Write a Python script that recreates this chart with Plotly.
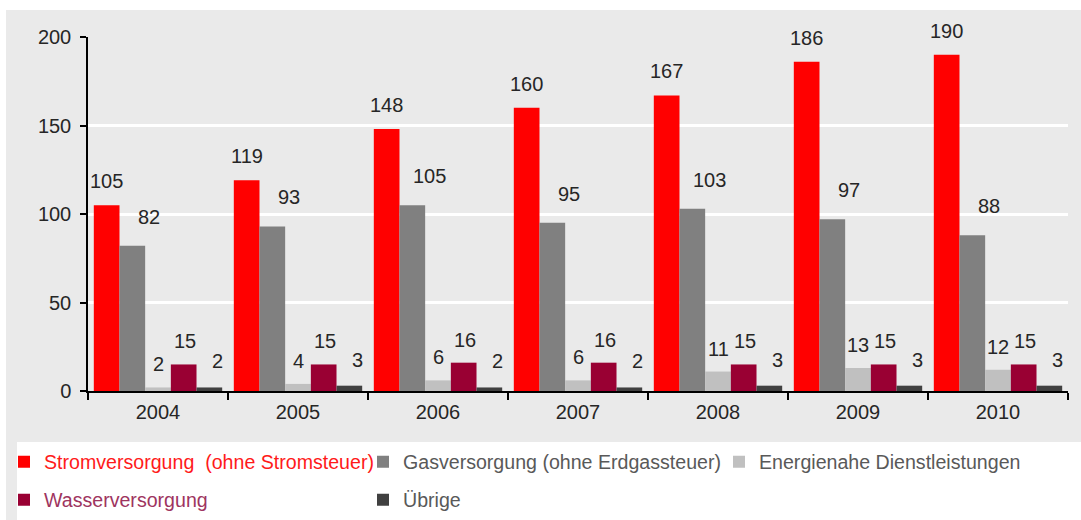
import plotly.graph_objects as go

# ---- data ----
years = ["2004", "2005", "2006", "2007", "2008", "2009", "2010"]
strom = [105, 119, 148, 160, 167, 186, 190]
gas = [82, 93, 105, 95, 103, 97, 88]
energie = [2, 4, 6, 6, 11, 13, 12]
wasser = [15, 15, 16, 16, 15, 15, 15]
uebrige = [2, 3, 2, 2, 3, 3, 3]
series_names = [
    "Stromversorgung  (ohne Stromsteuer)",
    "Gasversorgung (ohne Erdgassteuer)",
    "Energienahe Dienstleistungen",
    "Wasserversorgung",
    "Übrige",
]
y_ticks = [0, 50, 100, 150, 200]

# ---- styles ----
W, H = 1081, 520
ML, MR, MT, MB = 88, 13, 37, 129
PW, PH = W - ML - MR, H - MT - MB
bar_colors = ["#FF0000", "#808080", "#C0C0C0", "#990033", "#404040"]
legend_text_colors = ["#FF1A1A", "#595959", "#595959", "#9E3460", "#595959"]
# legend placement (px of left edge of legend, px of row centre)
legend_pos = [(4, 462), (363, 462), (719, 462), (4, 500), (363, 500)]
# label offsets per series (px right, px up from bar top)
label_dx = [0, 17, 0, 1, 8]
label_dy = [24, 29, 23, 23, 26]
FONT = "Liberation Sans, Arial, sans-serif"
TXT = "#262626"
bargap = 0.083

all_series = [strom, gas, energie, wasser, uebrige]

fig = go.Figure()
for i, (name, vals) in enumerate(zip(series_names, all_series)):
    fig.add_trace(go.Bar(
        x=years, y=vals, name=name,
        marker=dict(color=bar_colors[i], line=dict(width=0)),
        legend="legend" if i == 0 else f"legend{i+1}",
        hoverinfo="x+y+name",
    ))

# data labels (category axis positions are serial numbers of the categories)
bar_w = (PW / len(years)) * (1 - bargap) / len(all_series)
annotations = []
for i, vals in enumerate(all_series):
    for k, v in enumerate(vals):
        annotations.append(dict(
            x=k, y=v, xref="x", yref="y", text=str(v), showarrow=False,
            xshift=(i - 2) * bar_w + label_dx[i], yshift=label_dy[i],
            xanchor="center", yanchor="middle",
            font=dict(family=FONT, size=20, color=TXT),
        ))

def px_x(px):
    return (px - ML) / PW

def px_y(py):
    return (H - MB - py) / PH

shapes = [
    dict(type="rect", xref="paper", yref="paper", layer="below",
         x0=px_x(6), x1=px_x(W + 2), y0=px_y(H + 2), y1=px_y(10),
         fillcolor="#EAEAEA", line=dict(width=0)),
    dict(type="rect", xref="paper", yref="paper", layer="below",
         x0=px_x(17), x1=px_x(W + 2), y0=px_y(H + 2), y1=px_y(442),
         fillcolor="#FFFFFF", line=dict(width=0)),
]

layout = dict(
    width=W, height=H, autosize=False,
    margin=dict(l=ML, r=MR, t=MT, b=MB, pad=0, autoexpand=False),
    paper_bgcolor="#FFFFFF", plot_bgcolor="rgba(0,0,0,0)",
    barmode="group", bargap=bargap, bargroupgap=0,
    font=dict(family=FONT, size=20, color=TXT),
    xaxis=dict(
        type="category", categoryorder="array", categoryarray=years,
        range=[-0.5, len(years) - 0.5],
        showline=True, linecolor="#000000", linewidth=1.5,
        ticks="outside", tickson="boundaries", ticklen=7, tickcolor="#000000",
        tickwidth=1.5, showgrid=False, tickfont=dict(size=20, color=TXT),
        ticklabelstandoff=2,
    ),
    yaxis=dict(
        range=[0, 200], tickvals=y_ticks, showline=True, linecolor="#000000",
        linewidth=1.5, ticks="outside", ticklen=6, tickcolor="#000000",
        tickwidth=1.5, showgrid=True, gridcolor="#FFFFFF", gridwidth=2.5,
        zeroline=False, tickfont=dict(size=20, color=TXT),
        ticklabelstandoff=5,
    ),
    annotations=annotations,
    shapes=shapes,
    showlegend=True,
)
for i, (lx, ly) in enumerate(legend_pos):
    key = "legend" if i == 0 else f"legend{i+1}"
    layout[key] = dict(
        x=px_x(lx), y=px_y(ly), xanchor="left", yanchor="middle",
        orientation="v", bgcolor="rgba(0,0,0,0)", borderwidth=0,
        font=dict(family=FONT, size=19.6, color=legend_text_colors[i]),
        itemclick=False, itemdoubleclick=False,
    )

fig.update_layout(**layout)
fig.write_html("out.html", config={"displayModeBar": False},
               post_script="document.body.style.margin='0';")
